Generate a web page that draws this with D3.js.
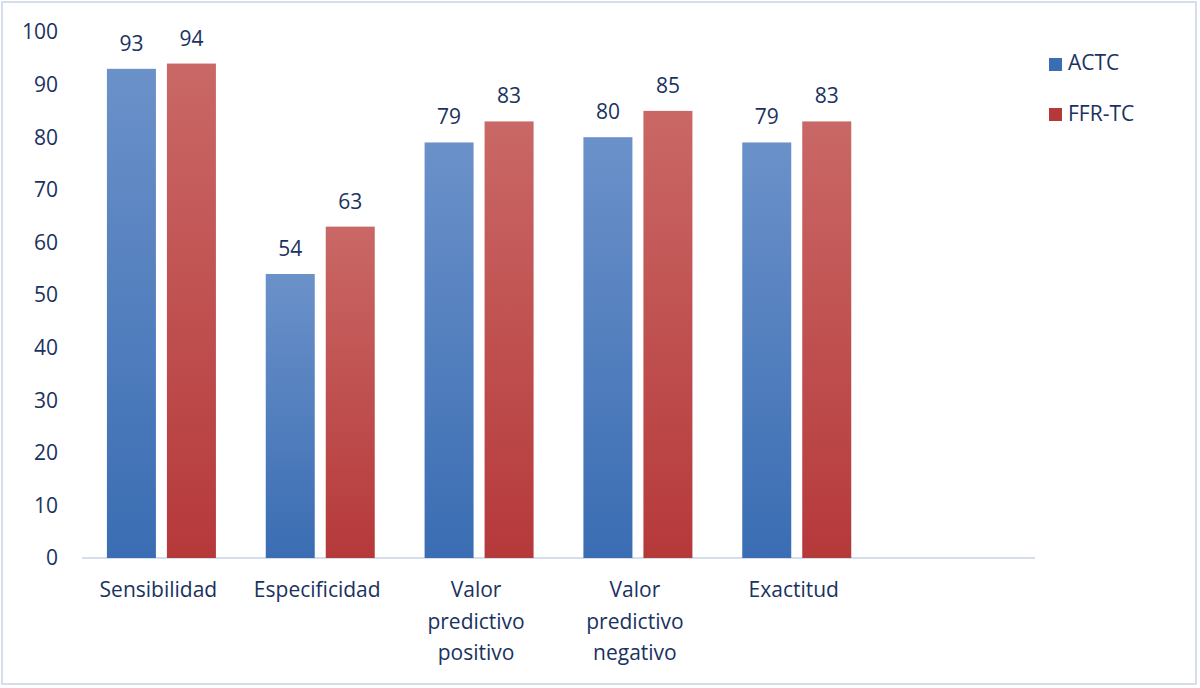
<!DOCTYPE html>
<html><head><meta charset="utf-8">
<script src="https://cdn.jsdelivr.net/npm/d3@7"></script>
<style>body{margin:0;background:#fff}svg{display:block}text{font-family:"Open Sans","Noto Sans",sans-serif;fill:#1a3260}</style>
</head><body><svg id="c" width="1200" height="688"></svg>
<script>
const categories = ["Sensibilidad","Especificidad","Valor predictivo positivo","Valor predictivo negativo","Exactitud",""];
const catLines = [["Sensibilidad"],["Especificidad"],["Valor","predictivo","positivo"],["Valor","predictivo","negativo"],["Exactitud"],[]];
const seriesNames = ["ACTC","FFR-TC"];
const actc = [93,54,79,80,79];
const ffrtc = [94,63,83,85,83];
const yTicks = [0,10,20,30,40,50,60,70,80,90,100];

const svg = d3.select("#c");
const defs = svg.append("defs");
const grads = [["gBlue","#6b91c9","#3a6db3"],["gRed","#c96866","#b6393a"]];
grads.forEach(([id,a,b])=>{
  const g = defs.append("linearGradient").attr("id",id).attr("x1",0).attr("y1",0).attr("x2",0).attr("y2",1);
  g.append("stop").attr("offset","0%").attr("stop-color",a);
  g.append("stop").attr("offset","100%").attr("stop-color",b);
});
svg.append("rect").attr("x",2).attr("y",2).attr("width",1194).attr("height",682).attr("fill","#fff").attr("stroke","#d6deeb").attr("stroke-width",2);

const x = d3.scaleBand().domain(categories.map((c,i)=>i)).range([82,1035]);
const y = d3.scaleLinear().domain([0,100]).range([558,32]);

svg.append("line").attr("x1",82).attr("x2",1035).attr("y1",y(0)).attr("y2",y(0)).attr("stroke","#d6deeb").attr("stroke-width",2);

svg.selectAll(".yt").data(yTicks).enter().append("text")
  .attr("x",58).attr("y",d=>y(d)).attr("dy","0.35em").attr("text-anchor","end")
  .attr("font-size",21).text(d=>d);

const barW = 49, gap = 11;
const series = [actc, ffrtc];
series.forEach((vals,si)=>{
  const off = si===0 ? -gap/2 - barW : gap/2;
  const g = svg.append("g");
  g.selectAll("rect").data(vals).enter().append("rect")
    .attr("x",(d,i)=>x(i)+x.bandwidth()/2+off)
    .attr("y",d=>y(d)).attr("width",barW).attr("height",d=>y(0)-y(d))
    .attr("fill",`url(#${grads[si][0]})`);
  g.selectAll("text").data(vals).enter().append("text")
    .attr("x",(d,i)=>x(i)+x.bandwidth()/2+off+barW/2)
    .attr("y",d=>y(d)-18).attr("text-anchor","middle").attr("font-size",21).text(d=>d);
});

catLines.forEach((lines,i)=>{
  const t = svg.append("text").attr("text-anchor","middle").attr("font-size",21)
    .attr("x",x(i)+x.bandwidth()/2-3).attr("y",597);
  lines.forEach((l,j)=>t.append("tspan").attr("x",x(i)+x.bandwidth()/2-3).attr("dy",j?31.5:0).text(l));
});

seriesNames.forEach((n,i)=>{
  svg.append("rect").attr("x",1049).attr("y",58+i*50).attr("width",13).attr("height",13).attr("fill",grads[i][2]);
  svg.append("text").attr("x",1068).attr("y",63+i*51).attr("dy","0.35em").attr("font-size",21).text(n);
});
</script></body></html>
